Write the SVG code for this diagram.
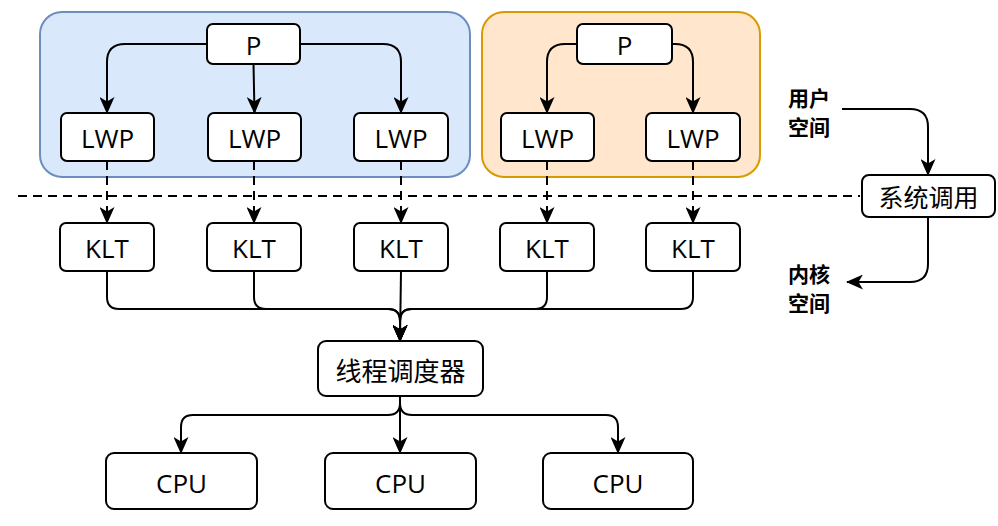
<svg xmlns="http://www.w3.org/2000/svg" width="998" height="526" viewBox="0 0 998 526">
<style>
.node{fill:#fff;stroke:#000;stroke-width:2}
.lat{font-family:"Comic Sans MS","Open Sans",sans-serif;font-size:26px;fill:#000;text-anchor:middle;dominant-baseline:central}
.cjk{font-family:"Noto Sans CJK SC",sans-serif;fill:#000;text-anchor:middle;dominant-baseline:central}
.ed{fill:none;stroke:#000;stroke-width:2;marker-end:url(#ah)}
.dash{stroke-dasharray:9 6}
</style>
<defs>
<marker id="ah" markerUnits="userSpaceOnUse" markerWidth="17" markerHeight="15" refX="16" refY="7.5" orient="auto">
<path d="M0,0 L17,7.5 L0,15 L4.5,7.5 Z" fill="#000"/>
</marker>
</defs>
<g id="containers">
<rect id="proc1" x="40" y="12" width="430" height="165" rx="22" fill="#dae8fc" stroke="#6c8ebf" stroke-width="2"/>
<rect id="proc2" x="482" y="12" width="278" height="165" rx="22" fill="#ffe6cc" stroke="#d79b00" stroke-width="2"/>
</g>
<line x1="18" y1="196" x2="860" y2="196" stroke="#000" stroke-width="2" class="dash"/>
<g id="connectors">
<path class="ed" d="M207,44 H125 Q107,44 107,62 V113"/>
<path class="ed" d="M253.5,64 L254.5,113"/>
<path class="ed" d="M300,44 H383 Q401,44 401,62 V113"/>
<path class="ed" d="M577,44 H565 Q547,44 547,62 V113"/>
<path class="ed" d="M672,44 H675 Q693,44 693,62 V113"/>
<path class="ed dash" d="M107,161 V223"/>
<path class="ed dash" d="M254,161 V223"/>
<path class="ed dash" d="M401,161 V223"/>
<path class="ed dash" d="M547,161 V223"/>
<path class="ed dash" d="M693,161 V223"/>
<path class="ed" d="M107,271 V297 Q107,309 119,309 H388 Q400,309 400,321 V341"/>
<path class="ed" d="M254,271 V297 Q254,309 266,309 H388 Q400,309 400,321 V341"/>
<path class="ed" d="M401,271 L400,341"/>
<path class="ed" d="M547,271 V297 Q547,309 535,309 H412 Q400,309 400,321 V341"/>
<path class="ed" d="M693,271 V297 Q693,309 681,309 H412 Q400,309 400,321 V341"/>
<path class="ed" d="M400,396 V403 Q400,415 388,415 H193 Q181,415 181,427 V453"/>
<path class="ed" d="M400,396 V453"/>
<path class="ed" d="M400,396 V403 Q400,415 412,415 H606 Q618,415 618,427 V453"/>
<path class="ed" d="M842,109 H910 Q928,109 928,127 V175"/>
<path class="ed" d="M928,217 V264 Q928,282 910,282 H847"/>
</g>
<g id="p1"><rect class="node" x="207" y="24" width="93" height="40" rx="6"/><text class="lat" x="253.5" y="45">P</text></g>
<g id="lwp1"><rect class="node" x="61" y="113" width="93" height="48" rx="6"/><text class="lat" x="107.5" y="138">LWP</text></g>
<g id="lwp2"><rect class="node" x="208" y="113" width="93" height="48" rx="6"/><text class="lat" x="254.5" y="138">LWP</text></g>
<g id="lwp3"><rect class="node" x="354" y="113" width="94" height="48" rx="6"/><text class="lat" x="401" y="138">LWP</text></g>
<g id="p2"><rect class="node" x="577" y="24" width="95" height="40" rx="6"/><text class="lat" x="624.5" y="45">P</text></g>
<g id="lwp4"><rect class="node" x="501" y="113" width="93" height="48" rx="6"/><text class="lat" x="547.5" y="138">LWP</text></g>
<g id="lwp5"><rect class="node" x="646" y="113" width="94" height="48" rx="6"/><text class="lat" x="693" y="138">LWP</text></g>
<g id="klt1"><rect class="node" x="60" y="223" width="94" height="48" rx="6"/><text class="lat" x="107" y="248">KLT</text></g>
<g id="klt2"><rect class="node" x="207" y="223" width="94" height="48" rx="6"/><text class="lat" x="254" y="248">KLT</text></g>
<g id="klt3"><rect class="node" x="354" y="223" width="94" height="48" rx="6"/><text class="lat" x="401" y="248">KLT</text></g>
<g id="klt4"><rect class="node" x="500" y="223" width="94" height="48" rx="6"/><text class="lat" x="547" y="248">KLT</text></g>
<g id="klt5"><rect class="node" x="646" y="223" width="94" height="48" rx="6"/><text class="lat" x="693" y="248">KLT</text></g>
<g id="sched"><rect class="node" x="318" y="341" width="165" height="55" rx="8"/><text class="cjk" x="400.5" y="369" font-size="26">线程调度器</text></g>
<g id="cpu1"><rect class="node" x="106" y="453" width="151" height="56" rx="8"/><text class="lat" x="181.5" y="483">CPU</text></g>
<g id="cpu2"><rect class="node" x="325" y="453" width="151" height="56" rx="8"/><text class="lat" x="400.5" y="483">CPU</text></g>
<g id="cpu3"><rect class="node" x="543" y="453" width="150" height="56" rx="8"/><text class="lat" x="618" y="483">CPU</text></g>
<g id="syscall"><rect class="node" x="862" y="175" width="133" height="42" rx="7"/><text class="cjk" x="928.5" y="196" font-size="25">系统调用</text></g>
<g id="userspace"><text class="cjk" x="809" y="97" font-size="21" font-weight="bold">用户</text><text class="cjk" x="809" y="126" font-size="21" font-weight="bold">空间</text></g>
<g id="kernelspace"><text class="cjk" x="809" y="273" font-size="21" font-weight="bold">内核</text><text class="cjk" x="809" y="302" font-size="21" font-weight="bold">空间</text></g>
</svg>
